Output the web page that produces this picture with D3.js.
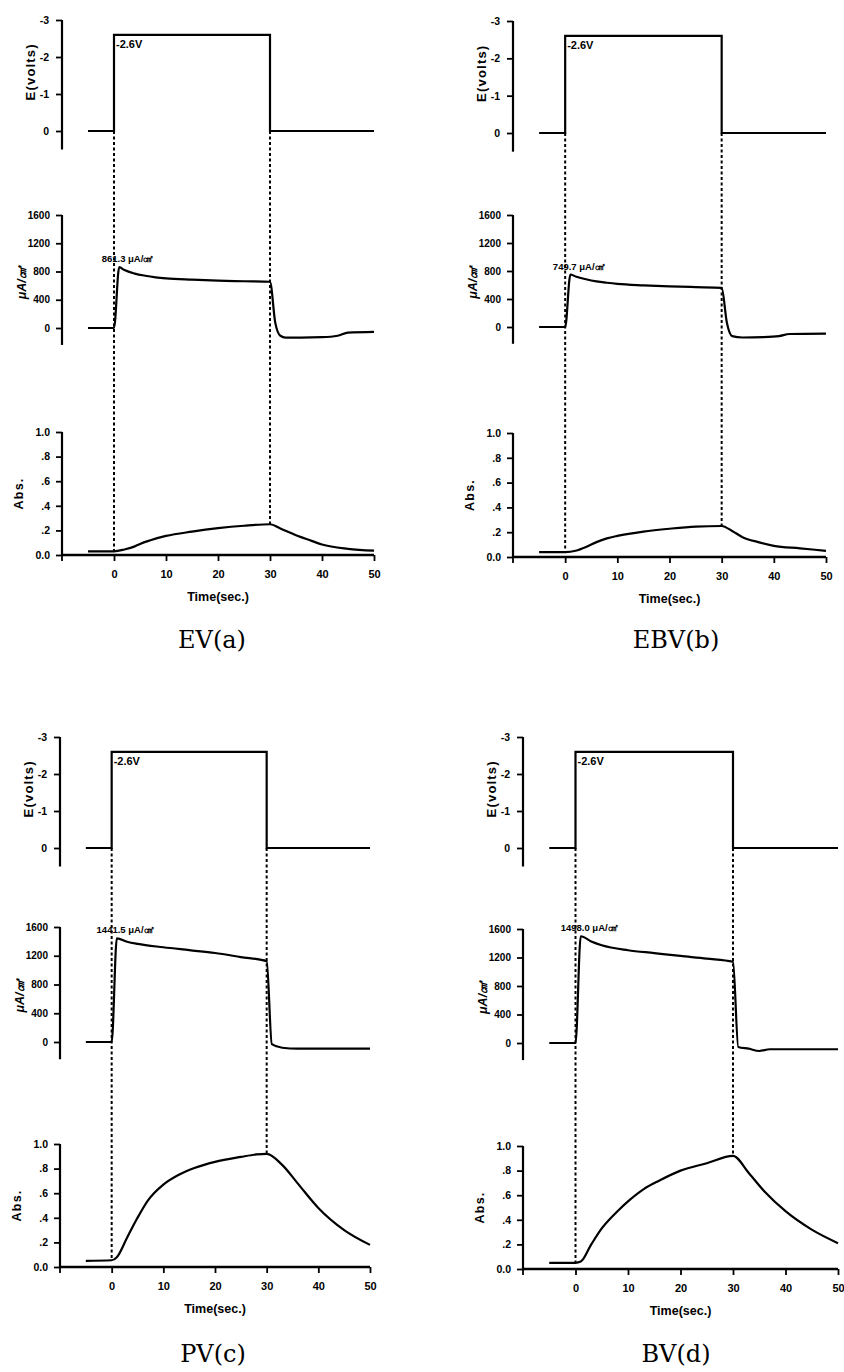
<!DOCTYPE html>
<html><head><meta charset="utf-8">
<script src="https://cdn.jsdelivr.net/npm/d3@7"></script>
<style>
html,body{margin:0;padding:0;background:#fff;}
svg{display:block;}
text{font-family:"Liberation Sans",Arial,sans-serif;font-weight:bold;fill:#000;}
</style></head>
<body>
<svg id="chart" width="844" height="1372"></svg>
<script>
// ---------------- DATA ----------------
const panelNames = ["EV(a)", "EBV(b)", "PV(c)", "BV(d)"];
const peakLabels = ["861.3 μA/㎠", "749.7 μA/㎠", "1441.5 μA/㎠", "1498.0 μA/㎠"];
const stepLabel = "-2.6V";

const timeTicks = [0, 10, 20, 30, 40, 50];
const timeTickLabels = ["0", "10", "20", "30", "40", "50"];
const voltTicks = [-3, -2, -1, 0];
const voltTickLabels = ["-3", "-2", "-1", "0"];
const curTicks = [1600, 1200, 800, 400, 0];
const curTickLabels = ["1600", "1200", "800", "400", "0"];
const absTicks = [1.0, 0.8, 0.6, 0.4, 0.2, 0.0];
const absTickLabels = ["1.0", ".8", ".6", ".4", ".2", "0.0"];

// potential step (t, E)
const voltT = [-5, 0, 0, 30, 30, 50];
const voltE = [0, 0, -2.6, -2.6, 0, 0];

// current density (t, μA/cm2)
const curEV = [[-5,0],[0,0],[1,861.3],[2,820],[4,770],[6,740],[8,718],[10,703],[15,684],[20,670],[25,662],[30,655],[31,80],[32,-110],[33,-135],[36,-135],[40,-130],[43,-110],[45,-65],[50,-55]];
const curEBV = [[-5,0],[0,0],[1,749.7],[2,722],[4,682],[6,652],[8,632],[10,616],[15,595],[20,580],[25,570],[30,560],[31,60],[32,-130],[34,-150],[38,-145],[41,-130],[43,-100],[50,-95]];
const curPV = [[-5,0],[0,0],[1,1441.5],[3,1395],[5,1365],[10,1318],[15,1278],[20,1238],[25,1182],[30,1125],[31,-30],[33,-80],[36,-92],[50,-92]];
const curBV = [[-5,0],[0,0],[1,1498],[3,1425],[5,1372],[10,1302],[15,1262],[20,1222],[25,1185],[30,1140],[31,-55],[33,-80],[35,-112],[37,-88],[50,-88]];

// absorbance (t, Abs.)
const absEV = [[-5,0.03],[0,0.03],[2,0.045],[4,0.07],[5,0.09],[7,0.12],[10,0.155],[15,0.19],[20,0.218],[25,0.238],[30,0.25],[32,0.215],[35,0.16],[38,0.115],[40,0.085],[45,0.05],[50,0.035]];
const absEBV = [[-5,0.04],[0,0.04],[2,0.05],[4,0.08],[6,0.12],[8,0.15],[10,0.17],[15,0.205],[20,0.228],[25,0.245],[30,0.25],[32,0.21],[34,0.16],[37,0.12],[40,0.09],[45,0.07],[50,0.05]];
const absPV = [[-5,0.05],[0,0.055],[1,0.08],[3,0.24],[5,0.4],[7,0.54],[10,0.67],[13,0.75],[16,0.805],[20,0.855],[25,0.895],[28,0.915],[30,0.92],[33,0.83],[36,0.68],[40,0.48],[45,0.3],[50,0.18]];
const absBV = [[-5,0.05],[0,0.05],[1,0.06],[3,0.2],[5,0.33],[8,0.47],[10,0.55],[13,0.65],[16,0.72],[20,0.8],[25,0.86],[30,0.92],[33,0.78],[36,0.63],[40,0.47],[45,0.32],[50,0.21]];

const currentSeries = [curEV, curEBV, curPV, curBV];
const absSeries = [absEV, absEBV, absPV, absBV];

// ---------------- LAYOUT ----------------
const layout = [
  {x0:62,  x1:374, eTop:20,  eZero:131, cTop:215, cZero:328,  aTop:432,  aZero:555,  lx:212, ly:648},
  {x0:513, x1:826, eTop:21,  eZero:133, cTop:215, cZero:327,  aTop:433,  aZero:557,  lx:676, ly:648},
  {x0:60,  x1:370, eTop:737, eZero:848, cTop:927, cZero:1042, aTop:1144, aZero:1267, lx:213, ly:1362},
  {x0:523, x1:838, eTop:737, eZero:848, cTop:929, cZero:1043, aTop:1146, aZero:1269, lx:676, ly:1362}
];

const svg = d3.select("#chart");
svg.append("rect").attr("width",844).attr("height",1372).attr("fill","#fff");

function styleAxis(g, fs){
  g.select(".domain").remove();
  g.selectAll(".tick line").attr("stroke","#000").attr("stroke-width",1.8);
  g.selectAll(".tick text").attr("font-size",fs).attr("font-family","Liberation Sans, Arial, sans-serif").attr("font-weight","bold");
}

panelNames.forEach((name, i) => {
  const L = layout[i];
  const g = svg.append("g");
  const x = d3.scaleLinear().domain([-10, 50]).range([L.x0, L.x1]);
  const yE = d3.scaleLinear().domain([-3, 0]).range([L.eTop, L.eZero]);
  const yC = d3.scaleLinear().domain([1600, 0]).range([L.cTop, L.cZero]);
  const yA = d3.scaleLinear().domain([1, 0]).range([L.aTop, L.aZero]);

  // ---- E axis
  const axE = g.append("g").attr("transform",`translate(${L.x0},0)`)
    .call(d3.axisLeft(yE).tickValues(voltTicks).tickFormat((d,k)=>voltTickLabels[k]).tickSize(6).tickPadding(7));
  styleAxis(axE, 10.5);
  g.append("line").attr("x1",L.x0).attr("x2",L.x0).attr("y1",yE(-3)).attr("y2",yE(0.5))
    .attr("stroke","#000").attr("stroke-width",2.2);

  // ---- current axis
  const axC = g.append("g").attr("transform",`translate(${L.x0},0)`)
    .call(d3.axisLeft(yC).tickValues(curTicks).tickFormat((d,k)=>curTickLabels[k]).tickSize(6).tickPadding(6));
  styleAxis(axC, 10);
  g.append("line").attr("x1",L.x0).attr("x2",L.x0).attr("y1",yC(1600)).attr("y2",yC(-240))
    .attr("stroke","#000").attr("stroke-width",2.2);

  // ---- abs axis
  const axA = g.append("g").attr("transform",`translate(${L.x0},0)`)
    .call(d3.axisLeft(yA).tickValues(absTicks).tickFormat((d,k)=>absTickLabels[k]).tickSize(6).tickPadding(6));
  styleAxis(axA, 10.5);
  g.append("line").attr("x1",L.x0).attr("x2",L.x0).attr("y1",yA(1)).attr("y2",yA(0))
    .attr("stroke","#000").attr("stroke-width",2.2);

  // ---- time axis
  const axT = g.append("g").attr("transform",`translate(0,${L.aZero})`)
    .call(d3.axisBottom(x).tickValues(timeTicks).tickFormat((d,k)=>timeTickLabels[k]).tickSize(6).tickPadding(9));
  styleAxis(axT, 11);
  g.append("line").attr("x1",L.x0).attr("x2",L.x1).attr("y1",L.aZero).attr("y2",L.aZero)
    .attr("stroke","#000").attr("stroke-width",2.4);
  g.append("line").attr("x1",L.x0).attr("x2",L.x0).attr("y1",L.aZero).attr("y2",L.aZero+6)
    .attr("stroke","#000").attr("stroke-width",1.8);

  // ---- axis titles
  g.append("text").attr("transform",`translate(${L.x0-27},${yE(-1.6)}) rotate(-90)`)
    .attr("text-anchor","middle").attr("font-size",13).attr("letter-spacing",1.2).text("E(volts)");
  g.append("text").attr("transform",`translate(${L.x0-36},${yC(640)}) rotate(-90)`)
    .attr("text-anchor","middle").attr("font-size",12.5).attr("font-style","italic").text("μA/㎠");
  g.append("text").attr("transform",`translate(${L.x0-39},${yA(0.5)}) rotate(-90)`)
    .attr("text-anchor","middle").attr("font-size",12.5).attr("letter-spacing",1.2).text("Abs.");
  g.append("text").attr("x",x(20)).attr("y",L.aZero+46)
    .attr("text-anchor","middle").attr("font-size",12.5).text("Time(sec.)");

  // ---- dashed guides
  const absAt = t => absSeries[i].find(p => p[0] === t)[1];
  [0, 30].forEach(t => {
    g.append("line").attr("x1",x(t)).attr("x2",x(t)).attr("y1",yE(0)).attr("y2",yA(absAt(t)))
      .attr("stroke","#000").attr("stroke-width",2).attr("stroke-dasharray","3,2.5");
  });

  // ---- voltage step
  const vLine = d3.line().x(d=>x(d[0])).y(d=>yE(d[1]));
  g.append("path").datum(voltT.map((t,k)=>[t, voltE[k]])).attr("d",vLine)
    .attr("fill","none").attr("stroke","#000").attr("stroke-width",2.2);
  g.append("text").attr("x",x(0)+2).attr("y",yE(-2.6)+13).attr("font-size",11).text(stepLabel);

  // ---- current
  const cLine = d3.line().x(d=>x(d[0])).y(d=>yC(d[1])).curve(d3.curveMonotoneX);
  g.append("path").datum(currentSeries[i]).attr("d",cLine)
    .attr("fill","none").attr("stroke","#000").attr("stroke-width",2.2);
  const peak = currentSeries[i][2];
  g.append("text").attr("x",x(2.6)).attr("y",yC(peak[1])-5).attr("text-anchor","middle")
    .attr("font-size",9.5).text(peakLabels[i]);

  // ---- absorbance
  const aLine = d3.line().x(d=>x(d[0])).y(d=>yA(d[1])).curve(d3.curveMonotoneX);
  g.append("path").datum(absSeries[i]).attr("d",aLine)
    .attr("fill","none").attr("stroke","#000").attr("stroke-width",2.2);

  // ---- panel label
  g.append("text").attr("x",L.lx).attr("y",L.ly).attr("text-anchor","middle")
    .attr("font-size",24).style("font-family","'DejaVu Serif', serif").style("font-weight","normal")
    .text(name);
});
</script>
</body></html>
